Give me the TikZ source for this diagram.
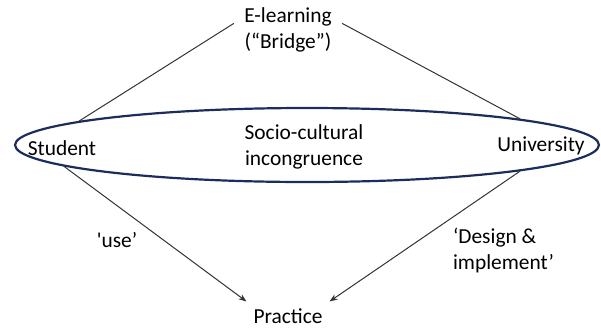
\documentclass[tikz,border=0pt]{standalone}
\usepackage{fontspec}
\newfontfamily\calfont[Ligatures=TeXOff]{Carlito}
\usetikzlibrary{shapes.geometric,arrows.meta}
\definecolor{ringblue}{RGB}{28,44,92}
\newcommand{\straightq}{\XeTeXglyph\XeTeXcharglyph"27\relax}
\begin{document}
\begin{tikzpicture}[x=0.5pt,y=-0.5pt,
  every node/.style={font=\calfont\fontsize{10.7}{13}\selectfont, align=center},
  link/.style={line width=0.5pt, draw=black!80},
  arr/.style={link, -{Stealth[length=4pt,width=3pt]}}]
\useasboundingbox (0,0) rectangle (601,328);
% the ring round the gap
\node[ellipse, draw=ringblue, line width=1.1pt, inner sep=0pt,
  minimum width=292pt, minimum height=37pt] (ring) at (307,145) {};
\node (incong) at (304,147) {Socio-cultural\\incongruence};
\node (student) at (62,148) {Student};
\node (univ) at (541,146) {University};
\node[inner sep=5pt] (elearn) at (288,30) {E-learning\\(“Bridge”)};
\node (practice) at (288,316) {Practice};
\node (use) at (117,240) {\straightq use’};
\node[anchor=west, align=left] (design) at (446,250) {‘Design \&\\implement’};
% upper and lower links
\draw[link] (ring.174) -- (elearn.173);
\draw[link] (elearn.7) -- (ring.7.5);
\draw[arr] (ring.185.5) -- (practice.north west);
\draw[arr] (ring.353) -- (practice.north east);
\end{tikzpicture}
\end{document}
